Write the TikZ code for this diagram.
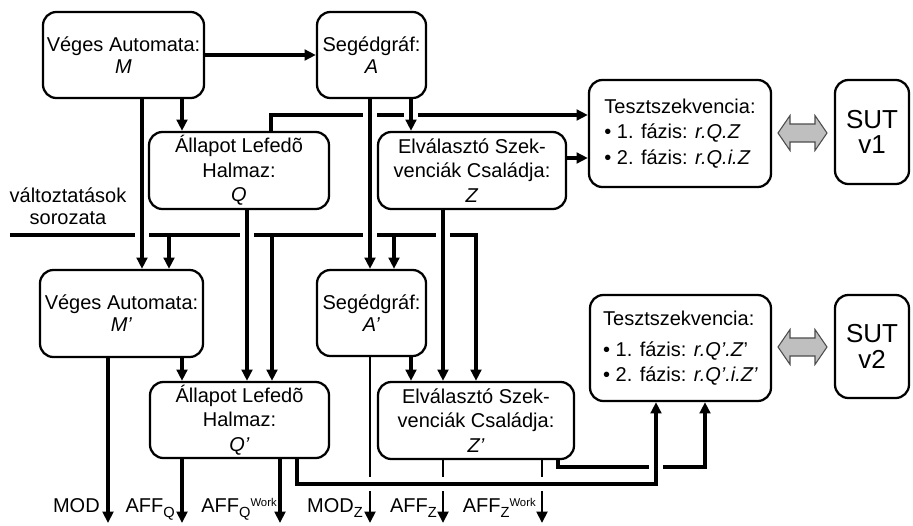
\documentclass[tikz,border=0pt]{standalone}
\usepackage{fontspec}
\setmainfont{Liberation Sans}
\usetikzlibrary{arrows.meta}
\pgfdeclarelayer{background}
\pgfsetlayers{background,main}
\newcommand\mysub[1]{\raisebox{-4pt}{\fontsize{11}{11}\selectfont #1}}
\newcommand\mysup[1]{\raisebox{4pt}{\fontsize{8.5}{8.5}\selectfont #1}}
\begin{document}
\begin{tikzpicture}[x=0.75pt,y=-0.75pt,
  box/.style={draw, line width=1.7pt, rounded corners=10pt, fill=white, align=center,
    inner sep=0pt, font=\fontsize{15}{18.4}\selectfont},
  sut/.style={font=\fontsize{19.5}{19}\selectfont},
  conn/.style={line width=2.5pt, -{Triangle[length=8.5pt,width=8pt]}},
  halo/.style={preaction={draw=white, line width=11pt, -}},
  lbl/.style={inner sep=0pt, anchor=base east, font=\fontsize{15}{18}\selectfont},
  dbl/.style={fill=black!25, draw=black!70, line width=0.8pt}]
\useasboundingbox (0,0) rectangle (913,525);

% upper row
\node[box, minimum width=120.75pt, minimum height=64.5pt, font=\fontsize{15}{16.5}\selectfont] (M) at (123.5,55) {Véges Automata:\\\textit{M}};
\node[box, minimum width=81.75pt, minimum height=64.5pt, font=\fontsize{15}{16.5}\selectfont] (A) at (371.5,55) {Segédgráf:\\\textit{A}};
\node[box, minimum width=135pt, minimum height=57.75pt] (Q) at (239,170.5) {Állapot Lefedõ\\Halmaz:\\\textit{Q}};
\node[box, minimum width=141pt, minimum height=57.75pt] (Z) at (472,170.5) {Elválasztó Szek-\\venciák Családja:\\\textit{Z}};
\node[box, minimum width=136.5pt, minimum height=80.25pt, align=left, font=\fontsize{15}{19}\selectfont] (T1) at (680,133.5) {Tesztszekvencia:\\• 1. fázis: \textit{r.Q.Z}\\• 2. fázis: \textit{r.Q.i.Z}};
\node[box, sut, minimum width=55.5pt, minimum height=78pt] (S1) at (872,132) {SUT\\v1};

% lower row
\node[box, minimum width=122.25pt, minimum height=65.25pt, font=\fontsize{15}{16.5}\selectfont] (M2) at (121.5,313.5) {Véges Automata:\\\textit{M’}};
\node[box, minimum width=81.75pt, minimum height=64.5pt, font=\fontsize{15}{16.5}\selectfont] (A2) at (371.5,313) {Segédgráf:\\\textit{A’}};
\node[box, minimum width=134.25pt, minimum height=57pt] (Q2) at (239.5,420) {Állapot Lefedõ\\Halmaz:\\\textit{Q’}};
\node[box, minimum width=147pt, minimum height=57.75pt] (Z2) at (476,420.5) {Elválasztó Szek-\\venciák Családja:\\\textit{Z’}};
\node[box, minimum width=135.75pt, minimum height=79.5pt, align=left, font=\fontsize{15}{19}\selectfont] (T2) at (680.5,348) {Tesztszekvencia:\\[4pt]• 1. fázis: \textit{r.Q’.Z}’\\• 2. fázis: \textit{r.Q’.i.Z’}};
\node[box, sut, minimum width=55.5pt, minimum height=77.25pt] (S2) at (872,346.5) {SUT\\v2};

% texts
\node[inner sep=0pt, align=center, font=\fontsize{15}{16.5}\selectfont] (chgl) at (68,206) {változtatások\\sorozata};
\node[lbl] (lMOD) at (100,512) {MOD};
\node[lbl] (lAFFQ) at (175,512) {AFF\mysub{Q}};
\node[lbl] (lAFFQW) at (277,512) {AFF\mysub{Q}\mysup{Work}};
\node[lbl] (lMODZ) at (363,512) {MOD\mysub{Z}};
\node[lbl] (lAFFZ) at (437,512) {AFF\mysub{Z}};
\node[lbl] (lAFFZW) at (536,512) {AFF\mysub{Z}\mysup{Work}};

% free ends
\coordinate (chg) at (10,235);
\coordinate (oMOD) at (108,523);
\coordinate (oAFFQ) at (182,523);
\coordinate (oAFFQW) at (280,523);
\coordinate (oMODZ) at (370,523);
\coordinate (oAFFZ) at (443,523);
\coordinate (oAFFZW) at (542,523);

% double arrows
\draw[dbl] (778,133) -- (790,115.5) -- (790,124) -- (815,124) -- (815,115.5) -- (827,133)
  -- (815,150.5) -- (815,142) -- (790,142) -- (790,150.5) -- cycle;
\draw[dbl] (778,347) -- (790,329.5) -- (790,338) -- (815,338) -- (815,329.5) -- (827,347)
  -- (815,364.5) -- (815,356) -- (790,356) -- (790,364.5) -- cycle;

\begin{pgfonlayer}{background}
% lines that are crossed with gaps
\draw[conn, line width=2.3pt] (chg) -| (Z2.north -| 476,0);
\draw[conn] (169,235) -- (M2.north -| 169,0);
\draw[conn] (272,235) -- (Q2.north -| 272,0);
\draw[conn] (394,235) -- (A2.north -| 394,0);
\draw[conn] (Q.north -| 271,0) |- (T1.west |- 0,115);
\draw[conn, line width=2.3pt] (Z2.south -| 558,0) |- (705,467) -- (T2.south -| 705,0);
\draw[conn, line width=2.2pt] (A2.south -| 370,0) -- (oMODZ);
\draw[conn, line width=2.2pt] (Z2.south -| 443,0) -- (oAFFZ);
\draw[conn, line width=2.2pt] (Z2.south -| 542,0) -- (oAFFZW);
% lines crossing over
\draw[conn, halo] (M.south -| 142,0) -- (M2.north -| 142,0);
\draw[conn, halo] (Q.south -| 247,0) -- (Q2.north -| 247,0);
\draw[conn, halo] (A.south -| 370,0) -- (A2.north -| 370,0);
\draw[conn, halo] (Z.south -| 443,0) -- (Z2.north -| 443,0);
\draw[conn, halo] (A.south -| 411,0) -- (Z.north -| 411,0);
\draw[conn, halo, line width=2.3pt] (Q2.south -| 297,0) |- (656,484) -- (T2.south -| 656,0);
% other connectors
\draw[conn] (M.east) -- (A.west);
\draw[conn] (M.south -| 182,0) -- (Q.north -| 182,0);
\draw[conn] (Z.east |- 0,158) -- (T1.west |- 0,158);
\draw[conn] (M2.south -| 108,0) -- (oMOD);
\draw[conn] (M2.south -| 182,0) -- (Q2.north -| 182,0);
\draw[conn] (A2.south -| 411,0) -- (Z2.north -| 411,0);
\draw[conn] (Q2.south -| 182,0) -- (oAFFQ);
\draw[conn] (Q2.south -| 280,0) -- (oAFFQW);
\end{pgfonlayer}
\end{tikzpicture}
\end{document}
